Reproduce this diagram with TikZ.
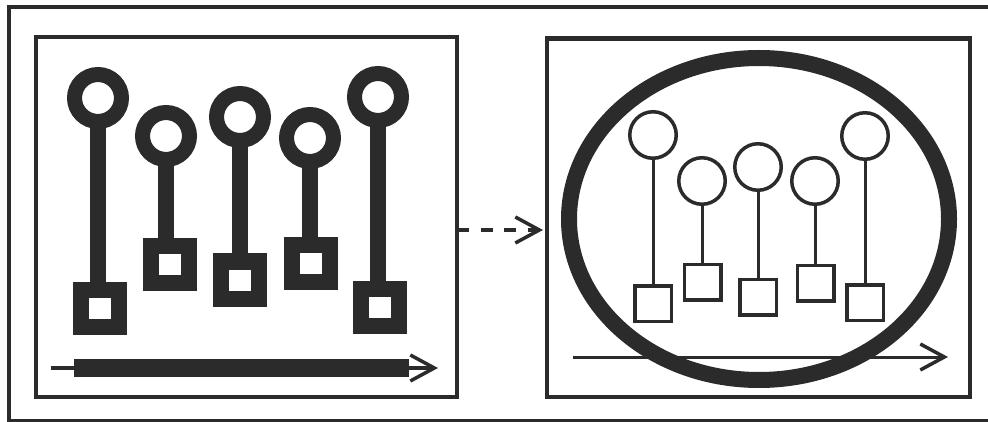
\documentclass[tikz,border=0pt]{standalone}
\usetikzlibrary{arrows.meta}
\definecolor{ink}{RGB}{43,43,43}
\begin{document}
\begin{tikzpicture}[x=1pt,y=-1pt,
  frame/.style={draw=ink,line width=4.5pt,rectangle,inner sep=0pt,outer sep=0pt},
  bigring/.style={draw=ink,circle,line width=15pt,minimum size=47pt,inner sep=0pt,outer sep=0pt},
  bigsq/.style={draw=ink,rectangle,line width=16pt,minimum width=38pt,minimum height=37pt,inner sep=0pt,outer sep=0pt},
  bigstem/.style={draw=ink,line width=16pt},
  smallring/.style={draw=ink,circle,line width=3.5pt,minimum size=46.5pt,inner sep=0pt,outer sep=0pt},
  smallsq/.style={draw=ink,rectangle,line width=3.5pt,minimum width=36.5pt,minimum height=35.5pt,inner sep=0pt,outer sep=0pt},
  smallstem/.style={draw=ink,line width=3pt},
  barb/.style={-{Straight Barb[length=24pt,width=26pt,line width=3.5pt]}}
]
\useasboundingbox (0,0) rectangle (988,422);
\fill[white] (0,0) rectangle (988,422);
% outer frame (right edge lies beyond the picture)
\draw[ink,line width=4pt] (998,7.5) -- (8.5,7.5) -- (8.5,421) -- (998,421);
% boxes
\node[frame,minimum width=421pt,minimum height=360pt] (lbox) at (246.5,217) {};
\node[frame,minimum width=423pt,minimum height=358.5pt] (rbox) at (758.5,217.75) {};
% left pins
\foreach \i/\cx/\cy/\sx/\sy in {1/98/98/100/308, 2/166/136/169.5/264.5, 3/240/117/240/280, 4/310/138/310.5/263.5, 5/378/97/380/307}{
  \node[bigring] (lc\i) at (\cx,\cy) {};
  \node[bigsq] (ls\i) at (\sx,\sy) {};
  \draw[bigstem] (lc\i.south) -- (lc\i.south |- ls\i.north);
}
% left timeline
\coordinate (la) at (51,368);
\coordinate (lb) at (438,368);
\draw[ink,line width=3.5pt,barb] (la) -- (lb);
\fill[ink] (74,359) rectangle (409,377);
% dashed connector
\draw[ink,line width=4pt,dash pattern=on 12pt off 11.5pt,barb,shorten >=4pt] (lbox.east |- 0,230) -- (rbox.west |- 0,230);
% right: ellipse
\draw[ink,line width=16pt] (759,219) ellipse [x radius=190pt, y radius=161pt];
% right pins
\foreach \i/\cx/\cy/\sx/\sy in {1/653/135/653/303.5, 2/702/181/702.5/282, 3/758/167/758/297, 4/815/181/815.5/283, 5/865/136/865/302.5}{
  \node[smallring] (rc\i) at (\cx,\cy) {};
  \node[smallsq] (rs\i) at (\sx,\sy) {};
  \draw[smallstem] (rc\i.south) -- (rc\i.south |- rs\i.north);
}
% right timeline
\coordinate (ra) at (573,357);
\coordinate (rb) at (948,357);
\draw[ink,line width=3pt,barb] (ra) -- (rb);
\end{tikzpicture}
\end{document}
